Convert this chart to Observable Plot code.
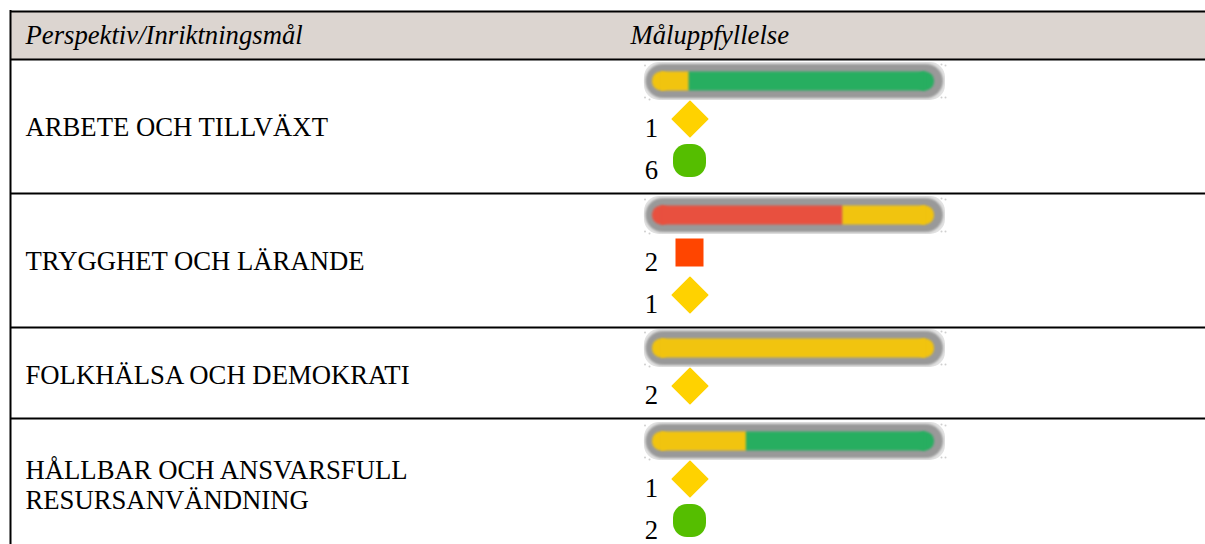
<!DOCTYPE html>
<html><head><meta charset="utf-8">
<script src="https://cdn.jsdelivr.net/npm/d3@7"></script>
<script src="https://cdn.jsdelivr.net/npm/@observablehq/plot@0.6"></script>
<style>html,body{margin:0;padding:0;background:#fff}svg{display:block}</style>
</head><body><div id="chart"></div>
<script>
// --- data ---
const headers = ["Perspektiv/Inriktningsmål", "Måluppfyllelse"];
const categories = ["ARBETE OCH TILLVÄXT", "TRYGGHET OCH LÄRANDE", "FOLKHÄLSA OCH DEMOKRATI", "HÅLLBAR OCH ANSVARSFULL\nRESURSANVÄNDNING"];
const redCounts = [0, 2, 0, 0];
const yellowCounts = [1, 1, 2, 1];
const greenCounts = [6, 0, 0, 2];
// share of each gauge taken up by red / yellow / green
const redShare = [0, 0.675, 0, 0];
const yellowShare = [0.13, 0.325, 1, 0.333];
const greenShare = [0.87, 0, 0, 0.667];

// --- layout ---
const W = 1205, H = 544, FS = 26.7;
const barCenters = [81, 215, 348, 441];
const labelY = [125.5, 259.5, 373.5, 483.5];
const ruleYs = [11, 59, 193, 327, 418];
const left = 652, trackW = 282, trackH = 19, r = 9, step = 42, first = 37.5;
const colors = {red: "#E8503F", yellow: "#F1C40F", green: "#27AE60"};
const markColors = {red: "#FF4500", yellow: "#FFD200", green: "#55BE00"};

const segments = [], markers = [];
categories.forEach((c, i) => {
  const parts = [["red", redCounts[i], redShare[i]], ["yellow", yellowCounts[i], yellowShare[i]], ["green", greenCounts[i], greenShare[i]]];
  let acc = 0, row = 0;
  for (const [k, n, s] of parts) {
    if (!n) continue;
    segments.push({i, k, x1: left + trackW * acc, x2: left + trackW * (acc + s), first: acc === 0, last: acc + s > 0.999});
    acc += s;
    markers.push({i, k, n, y: barCenters[i] + first + step * row});
    row++;
  }
});
const rows = categories.map((c, i) => ({i, c, y: barCenters[i]}));
const corners = rows.flatMap(d => [[644.5, d.y - 16], [644.5, d.y + 16], [649, d.y + 18], [941, d.y - 17], [945, d.y - 16], [945, d.y + 16], [941, d.y + 16]].map(([x, y]) => ({x, y})));
const shape = k => markers.filter(d => d.k === k);
// rounded caps only on the outer ends of a gauge; the inner part is square so segments meet cleanly
const caps = segments.flatMap(d => [
  ...(d.first ? [{i: d.i, k: d.k, x1: d.x1, x2: d.x1 + 2 * r}] : []),
  ...(d.last ? [{i: d.i, k: d.k, x1: d.x2 - 2 * r, x2: d.x2}] : [])
]);

const chart = Plot.plot({
  width: W, height: H, margin: 0,
  x: {domain: [0, W], range: [0, W], axis: null},
  y: {domain: [0, H], range: [0, H], axis: null},
  style: {background: "#fff"},
  marks: [
    Plot.rect([0], {x1: 10, x2: W, y1: 11, y2: 59, fill: "#DCD5D0"}),
    Plot.ruleY(ruleYs, {x1: 10, x2: W, stroke: "#000", strokeWidth: 2}),
    Plot.ruleX([10], {y1: 10, y2: H, stroke: "#000", strokeWidth: 2}),
    Plot.text([headers[0]], {x: 25, y: 34.5, text: d => d, textAnchor: "start", lineAnchor: "middle", fontFamily: "Liberation Serif", fontStyle: "italic", fontSize: FS, fill: "#000"}),
    Plot.text([headers[1]], {x: 630, y: 34.5, text: d => d, textAnchor: "start", lineAnchor: "middle", fontFamily: "Liberation Serif", fontStyle: "italic", fontSize: FS, fill: "#000"}),
    Plot.text(categories.map((c, i) => ({c, y: labelY[i]})), {x: 25, y: "y", text: "c", textAnchor: "start", lineAnchor: "middle", lineHeight: 1.125, fontFamily: "Liberation Serif", fontSize: FS, fill: "#000"}),
    // gauge image: faint halo, specks in the corners, blurred ring, blurred track
    Plot.rect(rows, {x1: 644, x2: 945, y1: d => d.y - 19, y2: d => d.y + 19, fill: "#E2E2E2", rx: 15, imageFilter: "blur(0.5px)"}),
    Plot.dot(corners, {x: "x", y: "y", r: 1, fill: "#CFCFCF"}),
    Plot.rect(rows, {x1: 645.5, x2: 943, y1: d => d.y - 17, y2: d => d.y + 17, fill: "#999", rx: 17, imageFilter: "blur(1.2px)"}),
    Plot.rect(caps, {x1: "x1", x2: "x2", y1: d => barCenters[d.i] - trackH / 2, y2: d => barCenters[d.i] + trackH / 2, fill: d => colors[d.k], rx: r, imageFilter: "blur(0.8px)"}),
    Plot.rect(segments, {x1: d => d.first ? d.x1 + r : d.x1, x2: d => d.last ? d.x2 - r : d.x2, y1: d => barCenters[d.i] - trackH / 2, y2: d => barCenters[d.i] + trackH / 2, fill: d => colors[d.k], imageFilter: "blur(0.8px)"}),
    // markers
    Plot.dot(shape("yellow"), {x: 689.5, y: "y", symbol: "diamond2", r: 16, fill: markColors.yellow, stroke: markColors.yellow, strokeWidth: 1.5, strokeLinejoin: "round"}),
    Plot.rect(shape("green"), {x1: 673, x2: 706, y1: d => d.y - 16.5, y2: d => d.y + 16.5, fill: markColors.green, rx: 14}),
    Plot.rect(shape("red"), {x1: 675.5, x2: 703.5, y1: d => d.y - 14, y2: d => d.y + 14, fill: markColors.red}),
    Plot.text(markers, {x: 651, y: d => d.y + 9, text: d => String(d.n), textAnchor: "middle", lineAnchor: "middle", fontFamily: "Liberation Serif", fontSize: FS, fill: "#000"})
  ]
});
document.getElementById("chart").append(chart);
</script></body></html>
